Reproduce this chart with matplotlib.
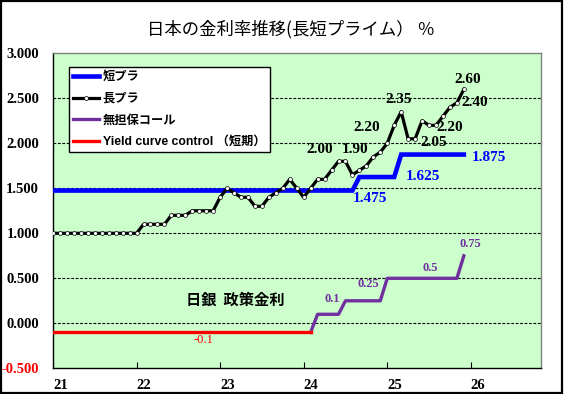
import matplotlib
matplotlib.use("Agg")
import matplotlib.pyplot as plt
from matplotlib.patches import Rectangle
import numpy as np

# ---- data (monthly, Jan 2021 .. Dec 2025) ----
start_year = 21
n_months = 60

long_prime = [1.00] * 12 + \
    [1.00, 1.10, 1.10, 1.10, 1.10, 1.20, 1.20, 1.20, 1.25, 1.25, 1.25, 1.25] + \
    [1.40, 1.50, 1.45, 1.40, 1.40, 1.30, 1.30, 1.40, 1.45, 1.50, 1.60, 1.50] + \
    [1.40, 1.50, 1.60, 1.60, 1.70, 1.80, 1.80, 1.65, 1.70, 1.75, 1.85, 1.90] + \
    [2.00, 2.20, 2.35, 2.05, 2.05, 2.25, 2.20, 2.20, 2.30, 2.40, 2.45, 2.60]

short_prime = [1.475] * 44 + [1.625] * 6 + [1.875] * 10

ycc_start, ycc_end = 0, 37          # Jan 2021 .. Feb 2024
ycc_values = [-0.1] * 38

call_start = 37                     # Feb 2024 .. Dec 2025
call_values = [-0.1] + [0.1] * 4 + [0.25] * 6 + [0.5] * 11 + [0.75]

legend_labels = ["短プラ", "長プラ", "無担保コール", "Yield curve control （短期）"]
title = "日本の金利率推移(長短プライム） ％"
policy_label = "日銀  政策金利"

x_ticks = [21, 22, 23, 24, 25, 26]
y_ticks = [-0.5, 0.0, 0.5, 1.0, 1.5, 2.0, 2.5, 3.0]

# value labels: (text, x, y)
black_labels = [("2.00", 24.19, 1.93), ("1.90", 24.61, 1.93), ("2.20", 24.75, 2.18),
                ("2.35", 25.14, 2.49), ("2.05", 25.55, 2.01), ("2.20", 25.75, 2.18),
                ("2.40", 26.05, 2.45), ("2.60", 25.96, 2.71)]
blue_labels = [("1.475", 24.79, 1.39), ("1.625", 25.43, 1.63), ("1.875", 26.22, 1.84)]
purple_labels = [("0.1", 24.34, 0.27), ("0.25", 24.77, 0.44), ("0.5", 25.51, 0.61),
                 ("0.75", 26.00, 0.88)]
red_labels = [("-0.1", 22.80, -0.19)]

months = np.arange(n_months)
xs = start_year + months / 12.0

# ---- figure ----
fig = plt.figure(figsize=(5.64, 3.94), dpi=100)
fig.patch.set_facecolor("white")
ax = fig.add_axes([53 / 564, 1 - 368.3 / 394, 488 / 564, 315 / 394])
ax.set_facecolor("#CCFFCC")

serif = "Liberation Serif"
cjk = ["Noto Sans CJK JP", "DejaVu Sans"]
leg_font = ["Liberation Sans", "Noto Sans CJK JP", "DejaVu Sans"]

for yv in [0.0, 0.5, 1.0, 1.5, 2.0, 2.5]:
    ax.axhline(yv, color="black", lw=0.8, ls=(0, (2.5, 1.5)), zorder=1)

l_short, = ax.plot(xs, short_prime, color="#0000FF", lw=3.3, solid_joinstyle="miter", zorder=3)
l_long, = ax.plot(xs, long_prime, color="black", lw=2.3, marker="o", ms=2.8,
                  mfc="white", mec="black", mew=0.5, zorder=4)
xc = start_year + np.arange(call_start, call_start + len(call_values)) / 12.0
l_call, = ax.plot(xc, call_values, color="#7030A0", lw=2.4, zorder=3)
xr = start_year + np.arange(ycc_start, ycc_end + 1) / 12.0
l_ycc, = ax.plot(xr, ycc_values, color="#FF0000", lw=2.4, zorder=3)

ax.set_xlim(21, 26.84)
ax.set_ylim(-0.5, 3.0)

ax.set_xticks(x_ticks)
ax.set_xticklabels([str(t) for t in x_ticks])
ax.set_yticks(y_ticks)
ax.set_yticklabels([f"{t:.3f}" for t in y_ticks])
ax.tick_params(axis="x", direction="in", length=4, width=0.8, pad=8, colors="black")
ax.tick_params(axis="y", length=0, pad=10)
for lab in ax.get_xticklabels():
    lab.set_fontfamily(serif)
    lab.set_fontweight("bold")
    lab.set_fontsize(10.5)
    lab.set_horizontalalignment("left")
for lab in ax.get_yticklabels():
    lab.set_fontfamily(serif)
    lab.set_fontweight("bold")
    lab.set_fontsize(10.5)
ax.get_yticklabels()[0].set_color("#FF0000")

ax.spines["left"].set_color("black")
ax.spines["bottom"].set_color("black")
ax.spines["top"].set_color("#808080")
ax.spines["right"].set_color("#808080")
for s in ax.spines.values():
    s.set_linewidth(1.0)

for t, x, y in black_labels:
    ax.text(x, y, t, color="black", fontfamily=serif, fontweight="bold",
            fontsize=11, ha="center", va="center", zorder=6)
for t, x, y in blue_labels:
    ax.text(x, y, t, color="#0000FF", fontfamily=serif, fontweight="bold",
            fontsize=11, ha="center", va="center", zorder=6)
for t, x, y in purple_labels:
    ax.text(x, y, t, color="#7030A0", fontfamily=serif, fontweight="bold",
            fontsize=9, ha="center", va="center", zorder=6)
for t, x, y in red_labels:
    ax.text(x, y, t, color="#FF0000", fontfamily=serif,
            fontsize=9, ha="center", va="center", zorder=6)

ax.text(23.18, 0.26, policy_label, fontfamily=cjk, fontsize=11, fontweight="bold",
        ha="center", va="center", color="black", zorder=6)

leg = ax.legend([l_short, l_long, l_call, l_ycc], legend_labels,
                loc="upper left", bbox_to_anchor=(0.0328, 0.9565), borderaxespad=0,
                frameon=True, fancybox=False, edgecolor="black", facecolor="white",
                framealpha=1, handlelength=2.1, handletextpad=0.3, labelspacing=0.78,
                borderpad=0.35,
                prop={"family": leg_font, "weight": "bold", "size": 8.8})
leg.get_frame().set_linewidth(1.0)
leg.set_zorder(10)

fig.text(291 / 564, 1 - 29 / 394, title, fontfamily=cjk, fontsize=12.5,
         ha="center", va="center", color="black")

fig.patches.append(Rectangle((0.001, 0.002), 0.995, 0.995, transform=fig.transFigure,
                             fill=False, ec="black", lw=1.6))

fig.savefig("out.png", dpi=100)
